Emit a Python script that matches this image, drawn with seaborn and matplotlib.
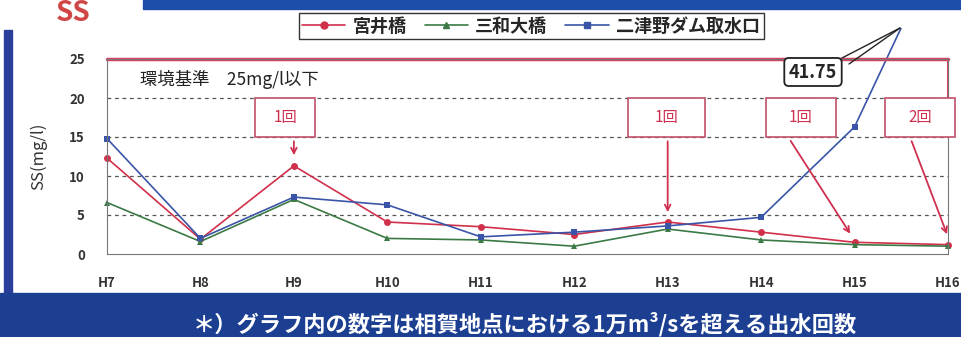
import pandas as pd
import seaborn as sns
import matplotlib.pyplot as plt
from matplotlib.patches import Rectangle
from matplotlib.lines import Line2D
from matplotlib.transforms import Bbox

# 1. Data
years = ['H7', 'H8', 'H9', 'H10', 'H11', 'H12', 'H13', 'H14', 'H15', 'H16']
miyai = [12.3, 1.9, 11.3, 4.1, 3.5, 2.5, 4.1, 2.8, 1.5, 1.2]
sanwa = [6.6, 1.6, 7.0, 2.0, 1.8, 1.0, 3.2, 1.8, 1.2, 1.0]
futatsuno = [14.8, 2.0, 7.3, 6.3, 2.2, 2.8, 3.6, 4.7, 16.3, 41.75]
series_names = ['宮井橋', '三和大橋', '二津野ダム取水口']
flood_counts = ['1回', '1回', '1回', '2回']

df = pd.DataFrame({'year': years * 3,
                   'x': list(range(len(years))) * 3,
                   'ss': miyai + sanwa + futatsuno,
                   'site': [s for s in series_names for _ in years]})

sns.set_style('white')
plt.rcParams['font.family'] = ['Noto Sans CJK JP', 'DejaVu Sans']

fig = plt.figure(figsize=(9.61, 3.37), dpi=100)
fig.patch.set_facecolor('white')
ax = fig.add_axes([107 / 961, 83 / 337, 841 / 961, 195 / 337])

palette = {'宮井橋': '#d0304a', '三和大橋': '#3b7a45', '二津野ダム取水口': '#3a55a8'}
markers = {'宮井橋': 'o', '三和大橋': '^', '二津野ダム取水口': 's'}
sns.lineplot(data=df, x='x', y='ss', hue='site', style='site', palette=palette,
             markers=markers, dashes=False, markersize=5, linewidth=1.2,
             markeredgewidth=0, ax=ax, legend=False)

# let the blue line run out above the axes, cut near the top of the picture
clip = Bbox([[0, 0], [961, 337 - 28]])
for ln in ax.lines:
    ln.set_clip_path(None)
    ln.set_clip_on(True)
    ln.set_clip_box(clip)

ax.set_xlim(0, 9)
ax.set_ylim(0, 25)
ax.set_xticks(range(len(years)))
ax.set_xticklabels(years)
ax.set_yticks([0, 5, 10, 15, 20, 25])
ax.tick_params(axis='x', labelsize=9.5, colors='#333333', length=0, pad=16)
ax.tick_params(axis='y', labelsize=9.5, colors='#333333', length=0, pad=16)
for lab in ax.get_xticklabels() + ax.get_yticklabels():
    lab.set_fontweight('bold')
ax.set_xlabel('')
ax.set_ylabel('SS(mg/l)', fontsize=12, color='#333333', labelpad=16)
for y in [5, 10, 15, 20]:
    ax.axhline(y, color='#555555', lw=0.9, ls=(0, (3, 3)), zorder=0)
for s in ax.spines.values():
    s.set_color('#777777')
ax.axhline(25, color='#d84060', lw=2.5, clip_on=False)
ax.plot([9, 9], [20, 25], color='#d84060', lw=1.5, clip_on=False)

ax.text(0.35, 22.4, '環境基準　25mg/l以下', fontsize=12.5, color='#222222', va='center')

# flood-count boxes with arrows
box_spans = [(1.58, 2.23), (5.58, 6.40), (7.05, 7.80), (8.33, 9.08)]
arrow_targets = [(2.0, 14.8, 2.0, 12.3), (6.0, 14.8, 6.0, 5.0),
                 (7.3, 14.8, 7.97, 2.3), (8.6, 14.8, 9.0, 2.2)]
for (x0, x1), txt, (ax0, ay0, ax1, ay1) in zip(box_spans, flood_counts, arrow_targets):
    ax.add_patch(Rectangle((x0, 15), x1 - x0, 5, facecolor='white', edgecolor='#c0506a',
                           lw=1.2, clip_on=False, zorder=3))
    ax.text((x0 + x1) / 2, 17.5, txt, color='#d03050', fontsize=11, ha='center',
            va='center', zorder=4)
    ax.annotate('', xy=(ax1, ay1), xytext=(ax0, ay0),
                arrowprops=dict(arrowstyle='->', color='#d03050', lw=1.3), zorder=4)

# callout for the off-scale value
fig.text(813 / 961, 1 - 72 / 337, '41.75', fontsize=13, fontweight='bold', ha='center',
         va='center', bbox=dict(boxstyle='round,pad=0.25', fc='white', ec='#222222', lw=1.3))
fig.add_artist(Line2D([842 / 961, 900 / 961], [1 - 58 / 337, 1 - 28 / 337], color='#222222', lw=1))
fig.add_artist(Line2D([849 / 961, 900 / 961], [1 - 64 / 337, 1 - 28 / 337], color='#222222', lw=1))

# legend
handles = [Line2D([], [], color=palette[s], marker=markers[s], markersize=5, lw=1.2)
           for s in series_names]
fig.legend(handles, series_names, loc='center', bbox_to_anchor=(531 / 961, 1 - 26 / 337),
           ncol=3, prop={'size': 13, 'weight': 'bold'}, frameon=True, fancybox=False,
           edgecolor='black', handlelength=2.4, columnspacing=1.0, handletextpad=0.4,
           borderpad=0.2)

# slide decoration
fig.add_artist(Rectangle((143 / 961, 1 - 9 / 337), 1, 9 / 337, color='#1f4ea8', transform=fig.transFigure))
fig.add_artist(Rectangle((4 / 961, 44 / 337), 8 / 961, 263 / 337, color='#2a3f9a', transform=fig.transFigure))
fig.add_artist(Rectangle((0, 0), 1, 44 / 337, color='#1d3f92', transform=fig.transFigure))
fig.text(56 / 961, 1 - 13 / 337, 'SS', fontsize=20, fontweight='bold', color='#d04545', va='center')
fig.text(525 / 961, 13 / 337, '＊）グラフ内の数字は相賀地点における1万m³/sを超える出水回数',
         color='white', fontsize=16, fontweight='bold', ha='center', va='center')

plt.savefig('out.png', dpi=100)
